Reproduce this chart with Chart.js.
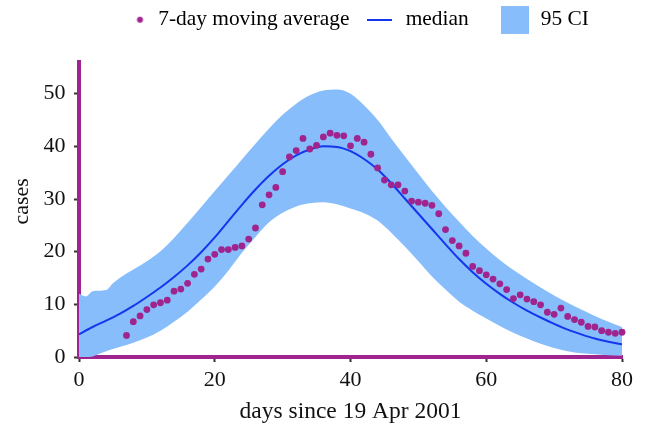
<!DOCTYPE html>
<html>
<head>
<meta charset="utf-8">
<script src="https://cdn.jsdelivr.net/npm/chart.js@4.4.1/dist/chart.umd.min.js"></script>
<style>
  html, body { margin: 0; padding: 0; background: #fff; }
  canvas { display: block; }
</style>
</head>
<body>
<canvas id="epiChart" width="649" height="430"></canvas>
<script>
// ── Data ──────────────────────────────────────────────────────────────────────
const avgDays = [7, 8, 9, 10, 11, 12, 13, 14, 15, 16, 17, 18, 19, 20, 21, 22, 23, 24, 25, 26,
  27, 28, 29, 30, 31, 32, 33, 34, 35, 36, 37, 38, 39, 40, 41, 42, 43, 44, 45, 46,
  47, 48, 49, 50, 51, 52, 53, 54, 55, 56, 57, 58, 59, 60, 61, 62, 63, 64, 65, 66,
  67, 68, 69, 70, 71, 72, 73, 74, 75, 76, 77, 78, 79, 80];
const avgCases = [4.1, 6.7, 7.8, 9.0, 9.9, 10.3, 10.8, 12.5, 12.9, 14.0, 15.7, 16.7, 18.6, 19.5, 20.4, 20.4, 20.8, 21.1, 22.4, 24.5,
  28.9, 30.8, 32.2, 35.2, 38.0, 39.2, 41.5, 39.5, 40.2, 41.8, 42.5, 42.1, 42.0, 40.1, 41.5, 40.8, 38.5, 35.9, 33.6, 32.7,
  32.7, 31.5, 29.6, 29.4, 29.2, 28.8, 27.2, 24.2, 22.1, 21.1, 19.7, 17.2, 16.4, 15.6, 14.8, 13.9, 12.8, 11.1, 11.8, 11.0,
  10.5, 9.9, 8.5, 8.1, 9.3, 7.7, 7.1, 6.6, 5.8, 5.7, 5.0, 4.7, 4.5, 4.7];

const medianDays  = [0, 2, 4, 6, 8, 10, 12, 14, 16, 18, 20, 22, 24, 26, 28, 30, 32, 34, 36, 38, 40,
  42, 44, 46, 48, 50, 52, 54, 56, 58, 60, 62, 64, 66, 68, 70, 72, 74, 76, 78, 80];
const medianCases = [4.3, 5.7, 6.9, 8.2, 9.7, 11.4, 13.2, 15.2, 17.4, 19.9, 22.7, 25.8, 28.9, 31.8, 34.4, 36.6, 38.3, 39.4, 40.0, 39.9, 39.1,
  37.6, 35.6, 33.0, 30.1, 27.2, 24.3, 21.4, 18.6, 16.1, 13.9, 12.0, 10.3, 8.8, 7.5, 6.3, 5.2, 4.3, 3.5, 2.9, 2.4];

const ciDays  = [0, 1, 2, 3, 4, 5, 6, 8, 10, 12, 14, 16, 18, 20, 22, 24, 26, 28, 30, 32, 34, 36, 38, 40,
  42, 44, 46, 48, 50, 52, 54, 56, 58, 60, 62, 64, 66, 68, 70, 72, 74, 76, 78, 80];
const ciUpper = [12.0, 11.5, 12.5, 12.6, 12.7, 14.0, 15.0, 16.6, 18.2, 20.1, 22.6, 25.5, 28.5, 31.5, 34.5, 37.5, 40.5, 43.4, 46.0, 48.1, 49.7, 50.6, 50.8, 50.0,
  47.8, 45.0, 41.5, 38.1, 34.8, 31.5, 28.5, 25.7, 23.0, 20.6, 18.4, 16.5, 14.8, 13.2, 11.7, 10.3, 9.0, 7.8, 6.7, 5.7];
const ciLower = [0, 0, 0.1, 0.6, 1.1, 1.5, 1.9, 2.7, 3.7, 5.0, 6.7, 8.6, 10.9, 13.4, 16.4, 19.8, 22.8, 25.6, 27.4, 28.6, 29.2, 29.4, 29.0, 28.2,
  27.3, 25.9, 23.6, 21.0, 18.2, 15.3, 12.8, 10.5, 8.8, 7.3, 5.9, 4.6, 3.5, 2.5, 1.7, 1.1, 0.7, 0.5, 0.35, 0.25];

const xTicks = [0, 20, 40, 60, 80];
const yTicks = [0, 10, 20, 30, 40, 50];
const legendLabels = ['7-day moving average', 'median', '95 CI'];

// ── Style ─────────────────────────────────────────────────────────────────────
const PURPLE = '#a0248e';
const BLUE   = '#1436ee';
const BAND   = '#87bdfa';
const INK    = '#111';
const FONT   = 'Liberation Serif';

Chart.defaults.font.family = FONT;
Chart.defaults.color = INK;

const toXY = (xs, ys) => xs.map((x, i) => ({ x, y: ys[i] }));

// little canvases used as legend symbols (drawn at their own size)
function symbol(w, h, paint) {
  const c = document.createElement('canvas');
  c.width = w; c.height = h;
  paint(c.getContext('2d'));
  return c;
}
const legendSymbols = [
  symbol(30, 8, g => { g.fillStyle = PURPLE; g.beginPath(); g.arc(22.5, 4, 3, 0, Math.PI * 2); g.fill(); }),
  symbol(25, 2, g => { g.fillStyle = BLUE; g.fillRect(0, 0, 25, 2); }),
  symbol(28, 28, g => { g.fillStyle = BAND; g.fillRect(0, 0, 28, 28); }),
];
// extra gap after "median", as in the reference
const legendPad = ['', '   ', ''];

// place the legend row where the reference has it
const LEGEND_LEFT = 117.5, LEGEND_TOP = 9.0;
const legendPlacer = {
  id: 'legendPlacer',
  afterLayout(chart) {
    const lg = chart.legend;
    const p = lg.options.labels.padding;
    const x0 = (lg.left + p + lg.right - lg.lineWidths[0]) / 2;
    const dx = LEGEND_LEFT - x0, dy = LEGEND_TOP - (lg.top + p);
    lg.left += dx; lg.right += dx; lg.top += dy; lg.bottom += dy;
  },
};

const axisGrid = { display: true, drawOnChartArea: false, drawTicks: true, tickLength: 5, tickColor: '#333', tickWidth: 2 };
const axisBorder = { display: true, color: PURPLE, width: 4 };

// ── Chart ─────────────────────────────────────────────────────────────────────
new Chart(document.getElementById('epiChart'), {
  type: 'line',
  data: {
    datasets: [
      {
        label: legendLabels[0],
        data: toXY(avgDays, avgCases),
        showLine: false,
        pointRadius: 3.4, pointBorderWidth: 0,
        pointBackgroundColor: PURPLE, borderColor: PURPLE,
        clip: false,
      },
      {
        label: legendLabels[1],
        data: toXY(medianDays, medianCases),
        borderColor: BLUE, borderWidth: 2,
        pointRadius: 0, cubicInterpolationMode: 'monotone', fill: false,
      },
      {
        label: legendLabels[2],
        data: toXY(ciDays, ciUpper),
        borderWidth: 0, borderColor: BAND, backgroundColor: BAND,
        pointRadius: 0, cubicInterpolationMode: 'monotone', fill: '+1',
      },
      {
        label: 'lower',
        data: toXY(ciDays, ciLower),
        borderWidth: 0, borderColor: BAND,
        pointRadius: 0, cubicInterpolationMode: 'monotone', fill: false,
      },
    ],
  },
  options: {
    responsive: false,
    animation: false,
    events: [],
    layout: { padding: { top: 15.2, right: 27, bottom: 0, left: 0 } },
    plugins: {
      tooltip: { enabled: false },
      legend: {
        position: 'top',
        labels: {
          usePointStyle: true,
          pointStyleWidth: 30,
          padding: 15.5,
          color: INK,
          font: { family: FONT, size: 21.4 },
          generateLabels: () => legendLabels.map((text, i) => ({
            text: text + legendPad[i],
            pointStyle: legendSymbols[i],
            datasetIndex: i,
            hidden: false,
            fillStyle: 'rgba(0,0,0,0)', strokeStyle: 'rgba(0,0,0,0)', lineWidth: 0,
          })),
        },
      },
    },
    scales: {
      x: {
        type: 'linear', min: 0, max: 80, z: 1,
        afterBuildTicks: s => { s.ticks = xTicks.map(value => ({ value })); },
        afterFit: s => { s.height = 73; },
        grid: axisGrid, border: axisBorder,
        ticks: { color: INK, padding: 5, font: { family: FONT, size: 22 } },
        title: { display: true, text: 'days since 19 Apr 2001', color: INK, padding: { top: 0, bottom: 3.6 }, font: { family: FONT, size: 23.5 } },
      },
      y: {
        type: 'linear', min: 0, max: 56, z: 1,
        afterBuildTicks: s => { s.ticks = yTicks.map(value => ({ value })); },
        afterFit: s => { s.width = 79; },
        grid: axisGrid, border: axisBorder,
        ticks: { color: INK, padding: 8.5, font: { family: FONT, size: 22 } },
        // leading spaces lift the rotated word to where the reference centres it
        title: { display: true, text: '   cases', color: INK, padding: { top: 9, bottom: 0 }, font: { family: FONT, size: 22 } },
      },
    },
  },
  plugins: [legendPlacer],
});
</script>
</body>
</html>
